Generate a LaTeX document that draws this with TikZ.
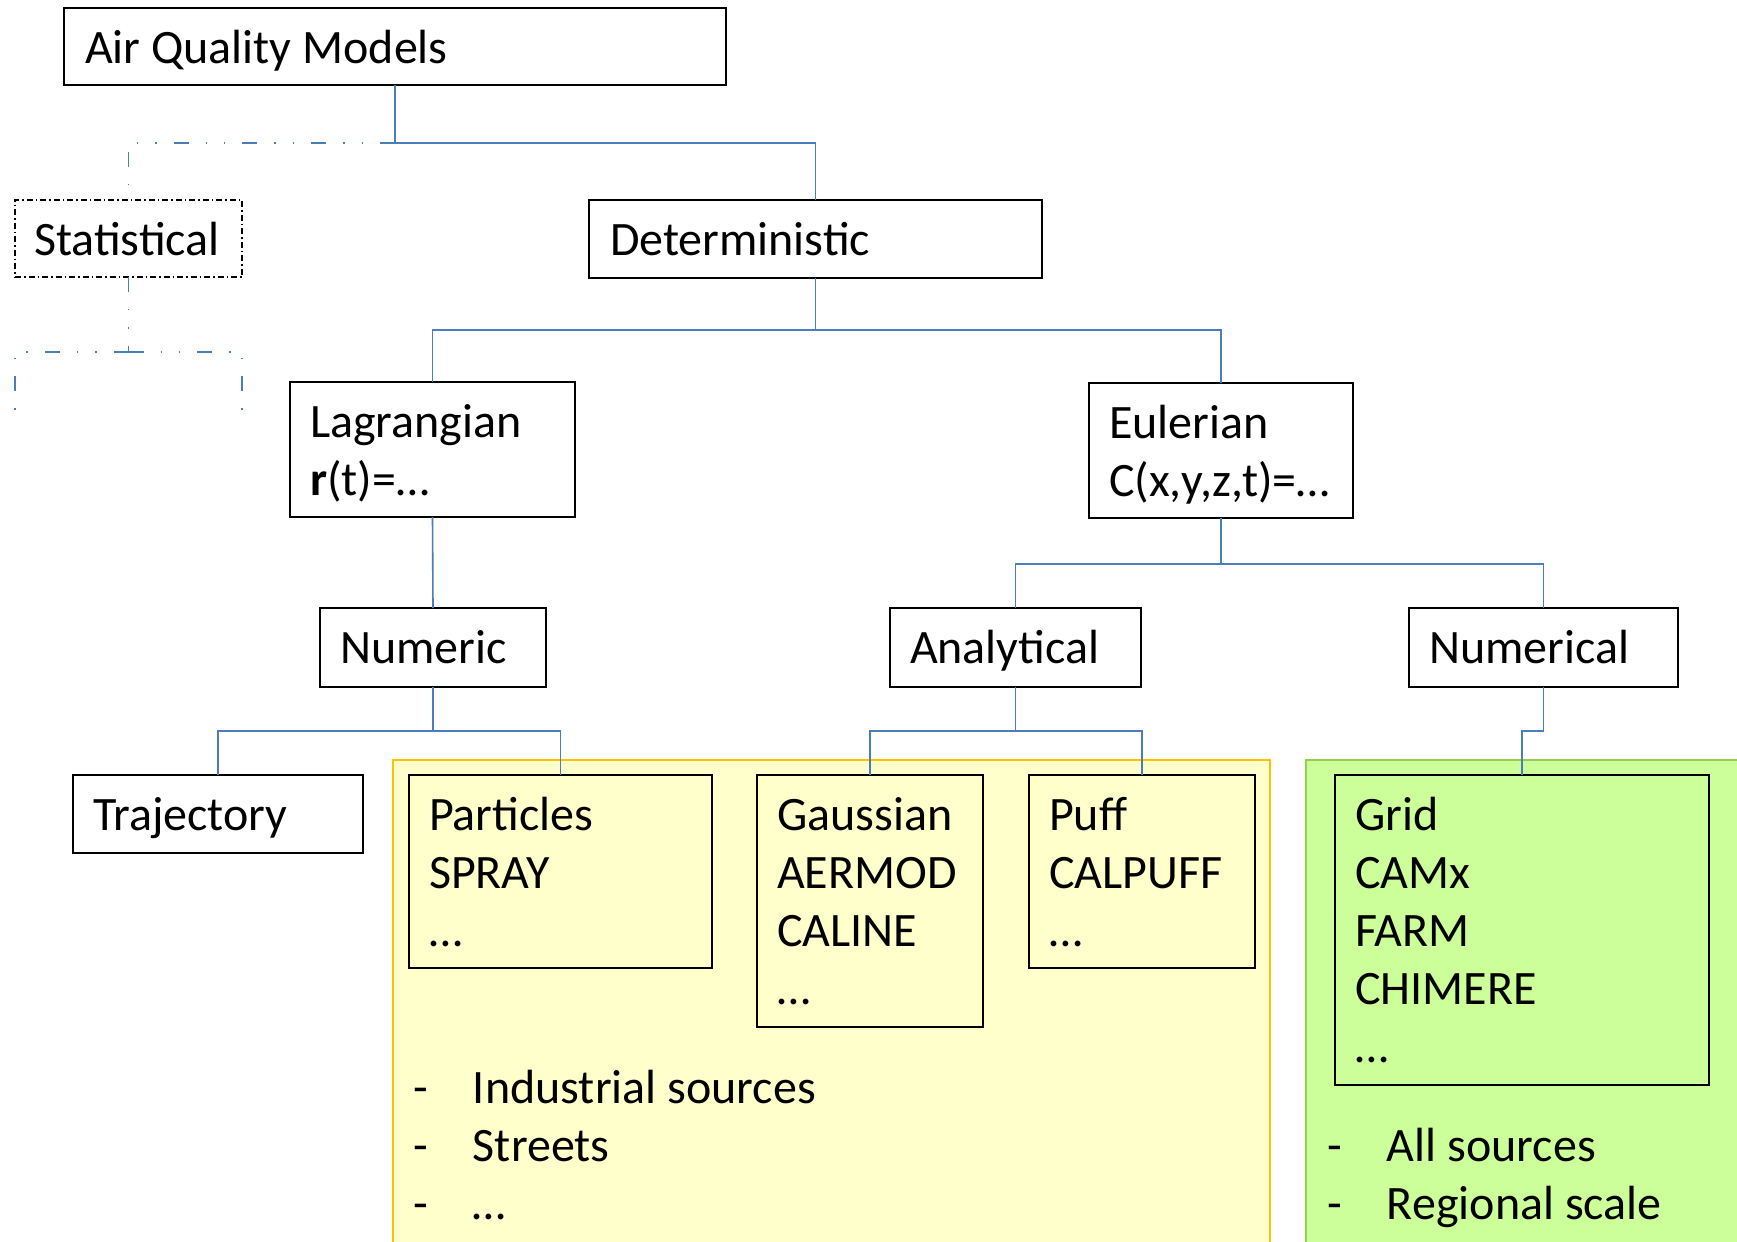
\documentclass[tikz,border=0pt]{standalone}
\usepackage{fontspec}
\setmainfont{Carlito}
\usetikzlibrary{calc}
\definecolor{linkblue}{HTML}{4A7EBB}
\definecolor{panelyellow}{HTML}{FFFFCC}
\definecolor{edgeyellow}{HTML}{FFC000}
\definecolor{panelgreen}{HTML}{CCFF99}
\definecolor{edgegreen}{HTML}{92D050}
\tikzset{
  modelbox/.style={draw=black, line width=1pt, rectangle, anchor=north west,
    inner sep=0pt, outer sep=0pt},
  dashbox/.style={modelbox, dash pattern=on 3pt off 1.5pt on 0.75pt off 1.5pt},
  label/.style={anchor=base west, inner sep=0pt, outer sep=0pt,
    font=\fontsize{24pt}{29pt}\selectfont},
  link/.style={draw=linkblue, line width=0.8pt},
  dlink/.style={link, dash pattern=on 7.5pt off 8.5pt on 0.7pt off 8.5pt on 0.7pt off 8.5pt},
}
\newcommand{\lines}[1]{\begin{tabular}[t]{@{}l@{}}#1\end{tabular}}
\newcommand{\bullets}[1]{\begin{tabular}[t]{@{}p{30pt}@{}l@{}}#1\end{tabular}}
\begin{document}
\begin{tikzpicture}[x=0.5pt,y=-0.5pt]
\useasboundingbox (0,0) rectangle (1737,1242);

% coloured application panels
\begin{scope}
  \clip (0,0) rectangle (1737,1242);
  \fill[panelyellow, draw=edgeyellow, line width=1pt] (393,760) rectangle (1270,1270);
  \fill[panelgreen, draw=edgegreen, line width=1pt] (1306,760) rectangle (1770,1270);
\end{scope}

% boxes
\node[modelbox, minimum width=331pt, minimum height=38.5pt] (aqm) at (64,8) {};
\node[dashbox, minimum width=113.5pt, minimum height=38.5pt] (stat) at (15,200) {};
\node[modelbox, minimum width=226.5pt, minimum height=39pt] (det) at (589,200) {};
\node[modelbox, minimum width=142.5pt, minimum height=67.5pt] (lag) at (290,382) {};
\node[modelbox, minimum width=132pt, minimum height=67.5pt] (eul) at (1089,383) {};
\node[modelbox, minimum width=113pt, minimum height=39.5pt] (num) at (320,608) {};
\node[modelbox, minimum width=125.5pt, minimum height=39.5pt] (ana) at (890,608) {};
\node[modelbox, minimum width=134.5pt, minimum height=39.5pt] (numl) at (1409,608) {};
\node[modelbox, minimum width=145pt, minimum height=39pt] (traj) at (73,775) {};
\node[modelbox, minimum width=151.5pt, minimum height=96.5pt] (part) at (409,775) {};
\node[modelbox, minimum width=113pt, minimum height=126pt] (gauss) at (757,775) {};
\node[modelbox, minimum width=113pt, minimum height=96.5pt] (puff) at (1029,775) {};
\node[modelbox, minimum width=187pt, minimum height=155pt] (grid) at (1335,775) {};

% box texts
\node[label] (aqmT) at (85,63) {Air Quality Models};
\node[label] (statT) at (34,255) {Statistical};
\node[label] (detT) at (610,255) {Deterministic};
\node[label] (lagT) at (310,437) {\lines{Lagrangian\\\textbf{r}(t)=…}};
\node[label] (eulT) at (1109,438) {\lines{Eulerian\\C(x,y,z,t)=…}};
\node[label] (numT) at (340,663) {Numeric};
\node[label] (anaT) at (910,663) {Analytical};
\node[label] (numlT) at (1429,663) {Numerical};
\node[label] (trajT) at (93,830) {Trajectory};
\node[label] (partT) at (429,830) {\lines{Particles\\SPRAY\\…}};
\node[label] (gaussT) at (777,830) {\lines{Gaussian\\AERMOD\\CALINE\\…}};
\node[label] (puffT) at (1049,830) {\lines{Puff\\CALPUFF\\…}};
\node[label] (gridT) at (1355,830) {\lines{Grid\\CAMx\\FARM\\CHIMERE\\…}};

% application notes
\node[label] (useY) at (413,1103) {\bullets{-&Industrial sources\\-&Streets\\-&…}};
\node[label] (useG) at (1327,1161) {\bullets{-&All sources\\-&Regional scale}};

% tree connectors
\coordinate (j0) at ($(aqm.south)+(0,58)$);
\draw[link] (aqm.south) -- (j0) -| (det.north);
\draw[dlink] (j0) -| (stat.north);

\coordinate (js) at ($(stat.south)+(0,75)$);
\coordinate (sl) at (15,420);
\coordinate (sr) at (242,420);
\draw[dlink] (stat.south) -- (js);
\draw[dlink] (js) -| (sl);
\draw[dlink] (js) -| (sr);

\coordinate (j1) at ($(det.south)+(0,52)$);
\draw[link] (det.south) -- (j1);
\draw[link] (lag.north) |- (j1) -| (eul.north);

\draw[link] (lag.south) -- (num.north);

\coordinate (j2) at ($(eul.south)+(0,46)$);
\draw[link] (eul.south) -- (j2);
\draw[link] (ana.north) |- (j2) -| (numl.north);

\coordinate (j3) at ($(num.south)+(0,44)$);
\draw[link] (num.south) -- (j3);
\draw[link] (traj.north) |- (j3) -| (part.north);

\coordinate (j4) at ($(ana.south)+(0,44)$);
\draw[link] (ana.south) -- (j4);
\draw[link] (gauss.north) |- (j4) -| (puff.north);

\coordinate (j5) at ($(numl.south)+(0,44)$);
\draw[link] (numl.south) -- (j5) -| (grid.north);
\end{tikzpicture}
\end{document}
